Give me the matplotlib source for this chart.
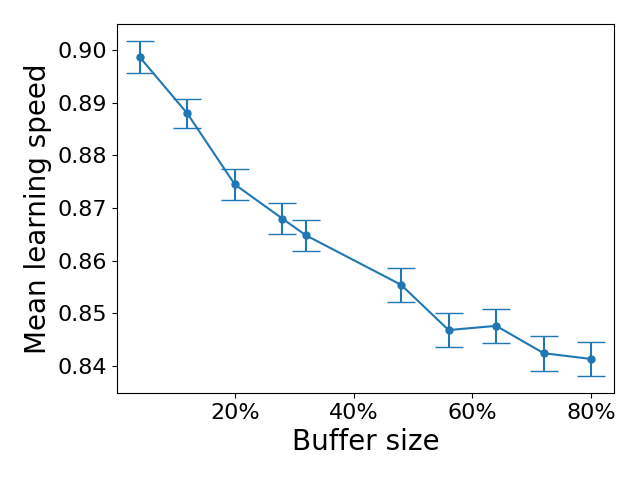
import numpy as np
import matplotlib
matplotlib.use('Agg')
import matplotlib.pyplot as plt
from matplotlib.ticker import PercentFormatter

buffer_size = [0.04, 0.12, 0.20, 0.28, 0.32, 0.48, 0.56, 0.64, 0.72, 0.80]
mean_speed = [0.8987, 0.8880, 0.8745, 0.8680, 0.8648, 0.8554, 0.8468, 0.8476, 0.8424, 0.8413]
speed_err = [0.0031, 0.0028, 0.0029, 0.0030, 0.0030, 0.0032, 0.0033, 0.0032, 0.0033, 0.0033]

fig, ax = plt.subplots(figsize=(6.4, 4.8), dpi=100)
ax.errorbar(buffer_size, mean_speed, yerr=speed_err, fmt='o-', markersize=5, capsize=10)
ax.xaxis.set_major_formatter(PercentFormatter(1.0, decimals=0))
ax.set_xticks([0.2, 0.4, 0.6, 0.8])
ax.tick_params(labelsize=16)
ax.set_xlabel('Buffer size', fontsize=20)
ax.set_ylabel('Mean learning speed', fontsize=20)
plt.subplots_adjust(left=0.183, right=0.959, top=0.95, bottom=0.181)
plt.savefig('out.png')
